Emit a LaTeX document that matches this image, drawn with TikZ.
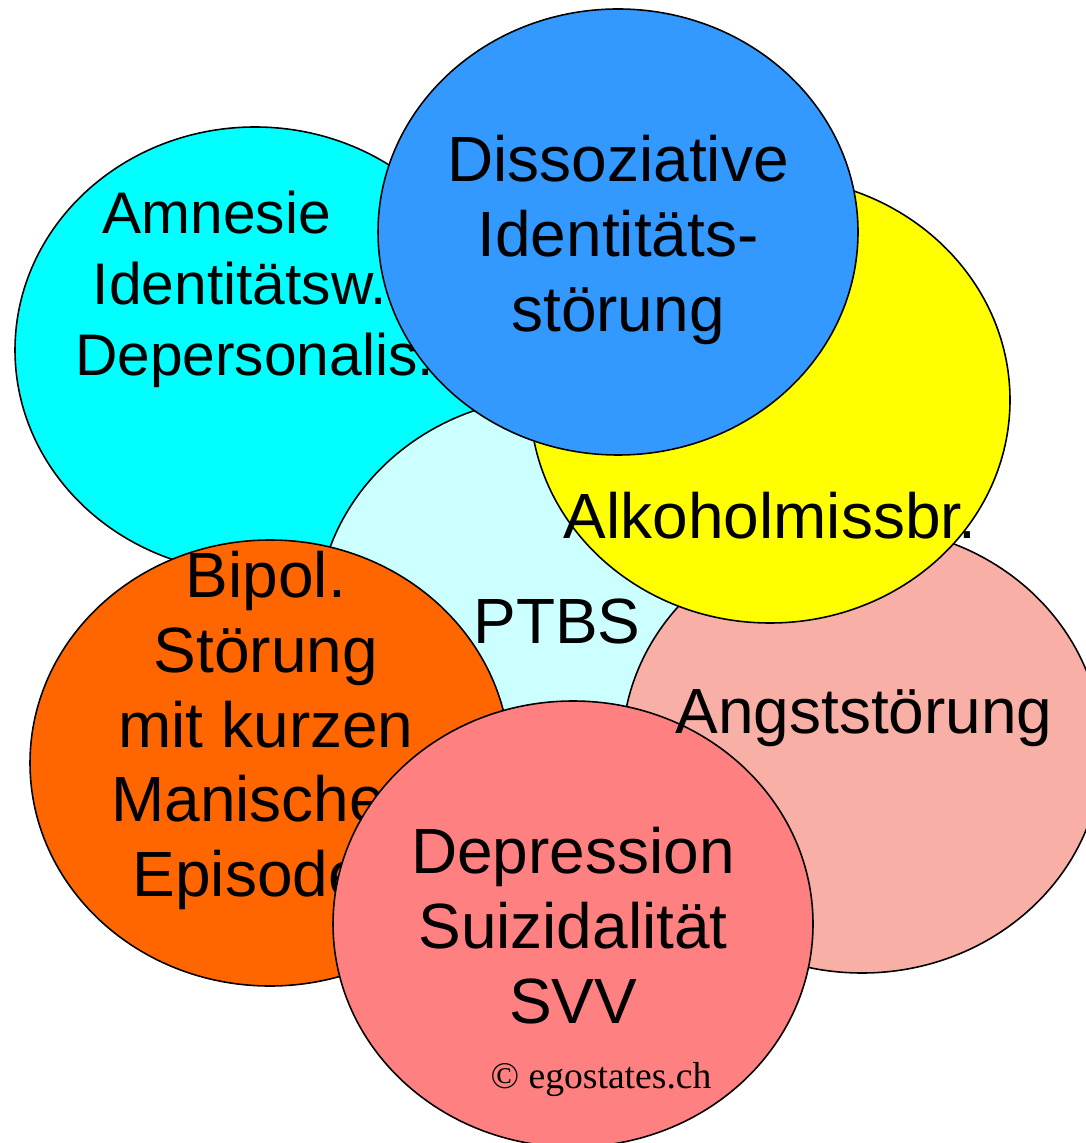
\documentclass[tikz,border=0pt]{standalone}
\usepackage{fontspec}
\setmainfont{Liberation Sans}
\newfontfamily\copyfont{Liberation Serif}
\usetikzlibrary{shapes.geometric}

\definecolor{amnesiecyan}{HTML}{00FFFF}
\definecolor{ptbscyan}{HTML}{CCFFFF}
\definecolor{angstsalmon}{HTML}{F8AFA6}
\definecolor{alkoyellow}{HTML}{FFFF00}
\definecolor{dissblue}{HTML}{3399FF}
\definecolor{bipolorange}{HTML}{FF6600}
\definecolor{deprpink}{HTML}{FF8080}

\newcommand{\bigtext}{\fontsize{18.2pt}{21.3pt}\selectfont}
\newcommand{\smalltext}{\fontsize{16.7pt}{20.2pt}\selectfont}

\begin{document}
\begin{tikzpicture}[x=0.1mm,y=-0.1mm,
	blob/.style={ellipse, draw=black, line width=0.45pt, minimum width=48mm, minimum height=44.6mm},
	blobtext/.style={font=\bigtext, align=center}]
	\tikzstyle{every node}+=[inner sep=0pt, outer sep=0pt]
	\useasboundingbox (0,0) rectangle (1085,1143);
	% back row
	\node [blob, fill=amnesiecyan] (amnesie) at (255,350) {};
	\node [blobtext, font=\smalltext, align=left, anchor=north west] (amnesietext) at (75,191)
		{\hspace*{2.75mm}Amnesie\\\hspace*{1.8mm}Identitätsw.\\Depersonalis.};
	\node [blob, fill=ptbscyan] (ptbs) at (557,620) {};
	\node [blobtext, anchor=base] (ptbstext) at (557,643) {PTBS};
	\node [blob, fill=angstsalmon] (angst) at (862,750) {};
	\node [blob, fill=alkoyellow] (alko) at (770,400) {};
	\node [blobtext, anchor=base] (alkotext) at (770,538) {Alkoholmissbr.};
	\node [blob, fill=dissblue] (diss) at (618,232) {};
	\node [blobtext, anchor=north] (disstext) at (618,135) {Dissoziative\\Identitäts-\\störung};
	% front row
	\node [blob, fill=bipolorange] (bipol) at (270,763) {};
	\node [blobtext, anchor=north] (bipoltext) at (266,551) {Bipol.\\Störung\\mit kurzen\\Manischen\\Episoden};
	\node [blob, fill=deprpink] (depr) at (573,924) {};
	\node [blobtext, anchor=north] (deprtext) at (573,827) {Depression\\Suizidalität\\SVV};
	\node [anchor=base, font=\copyfont\fontsize{10.7pt}{12pt}\selectfont] (copyright) at (601,1088) {© egostates.ch};
	\node [blobtext, anchor=base] (angsttext) at (864,733) {Angststörung};
\end{tikzpicture}
\end{document}
